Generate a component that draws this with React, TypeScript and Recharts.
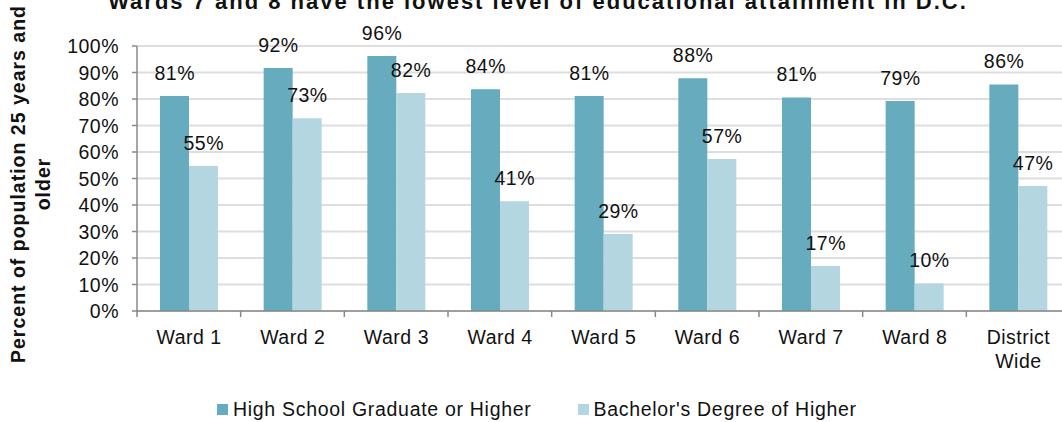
import React from "react";
import { BarChart, Bar, XAxis, YAxis, CartesianGrid, Legend, LabelList, Customized } from "recharts";

const categories = ["Ward 1", "Ward 2", "Ward 3", "Ward 4", "Ward 5", "Ward 6", "Ward 7", "Ward 8", "District Wide"];
const tickLabels = ["Ward 1", "Ward 2", "Ward 3", "Ward 4", "Ward 5", "Ward 6", "Ward 7", "Ward 8", "District\nWide"];
const highSchool = [81.1, 91.7, 96.2, 83.7, 81.1, 87.8, 80.6, 79.2, 85.5];
const bachelor = [54.7, 72.7, 82.3, 41.4, 29.1, 57.4, 17.0, 10.4, 47.2];
const yTicks = [0, 10, 20, 30, 40, 50, 60, 70, 80, 90, 100];
const seriesNames = ["High School Graduate or Higher", "Bachelor's Degree of Higher"];
const TITLE = "Wards 7 and 8 have the lowest level of educational attainment in D.C.";
const Y_LABEL = ["Percent of population 25 years and", "older"];

const data = categories.map((c, i) => ({ name: c, hs: highSchool[i], ba: bachelor[i] }));

const DARK = "#67abbf";
const LIGHT = "#b3d6e0";
const AXIS = "#898989";
const GRID = "#dedede";
const TEXT = "#111111";
const FONT = "'Liberation Sans', Arial, sans-serif";
const FS = 19.5;
const LS = 0.5;

const CHART_W = 1074;
const CHART_H = 422;
const MARGIN = { top: 46, right: 4, bottom: 51, left: 0 };
const Y_W = 137;
const PLOT_W = CHART_W - MARGIN.left - MARGIN.right - Y_W;
const BAND = PLOT_W / categories.length;

const XTick = (props: any) => {
  const { x, y, payload, index } = props;
  const idx = payload && typeof payload.index === "number" ? payload.index : index;
  const lines = tickLabels[idx].split("\n");
  return (
    <g>
      <line x1={x - BAND / 2} x2={x - BAND / 2} y1={y} y2={y + 6} stroke={AXIS} strokeWidth={1.5} />
      {idx === categories.length - 1 && (
        <line x1={x + BAND / 2} x2={x + BAND / 2} y1={y} y2={y + 6} stroke={AXIS} strokeWidth={1.5} />
      )}
      <text x={x} y={y + 33} textAnchor="middle" fill={TEXT} fontSize={FS} fontFamily={FONT} style={{ letterSpacing: LS }}>
        {lines.map((l: string, i: number) => (
          <tspan key={i} x={x + LS / 2} dy={i === 0 ? 0 : 24}>
            {l}
          </tspan>
        ))}
      </text>
    </g>
  );
};

const YTick = (props: any) => {
  const { x, y, payload } = props;
  return (
    <text x={x} y={y} dy={7} textAnchor="end" fill={TEXT} fontSize={FS} fontFamily={FONT} style={{ letterSpacing: LS }}>
      {`${payload.value}%`}
    </text>
  );
};

const BarLabel = (props: any) => {
  const { x, y, width, value } = props;
  return (
    <text x={x + width / 2 + LS / 2} y={y - 16} textAnchor="middle" fill={TEXT} fontSize={FS} fontFamily={FONT} style={{ letterSpacing: LS }}>
      {`${Math.round(value)}%`}
    </text>
  );
};

const YLabel = () => (
  <g>
    {Y_LABEL.map((t, i) => (
      <text
        key={i}
        x={25 + i * 25}
        y={184}
        transform={`rotate(-90, ${25 + i * 25}, 184)`}
        textAnchor="middle"
        fontWeight="bold"
        fontSize={19.5}
        fill={TEXT}
        fontFamily={FONT}
        style={{ letterSpacing: 1 }}
      >
        {t}
      </text>
    ))}
  </g>
);

const Title = () => (
  <text x={538} y={9} textAnchor="middle" fontWeight="bold" fontSize={22} fill={TEXT} fontFamily={FONT} style={{ letterSpacing: 2 }}>
    {TITLE}
  </text>
);

const LegendContent = () => (
  <div style={{ display: "flex", alignItems: "center", height: 22, fontFamily: FONT, fontSize: FS, letterSpacing: 0.7, color: TEXT, whiteSpace: "nowrap" }}>
    {seriesNames.map((n, i) => (
      <span key={n} style={{ display: "inline-flex", alignItems: "center", marginRight: i === 0 ? 46 : 0 }}>
        <span style={{ display: "inline-block", width: 11, height: 11, background: i === 0 ? DARK : LIGHT, marginRight: 5 }} />
        {n}
      </span>
    ))}
  </div>
);

export default function App() {
  return (
    <div style={{ position: "absolute", left: 0, top: 0, width: 1062, height: 422, overflow: "hidden", background: "#fff" }}>
      <BarChart width={CHART_W} height={CHART_H} data={data} margin={MARGIN} barGap={0} barSize={29}>
        <CartesianGrid vertical={false} stroke={GRID} strokeWidth={2} />
        <XAxis
          dataKey="name"
          height={60}
          interval={0}
          tickSize={0}
          tickMargin={0}
          tickLine={false}
          axisLine={{ stroke: AXIS, strokeWidth: 1.5 }}
          tick={<XTick />}
        />
        <YAxis
          width={Y_W}
          domain={[0, 100]}
          ticks={yTicks}
          interval={0}
          tickSize={5}
          tickMargin={13}
          tickLine={{ stroke: AXIS, strokeWidth: 1.5 }}
          axisLine={{ stroke: AXIS, strokeWidth: 1.5 }}
          tick={<YTick />}
        />
        <Legend
          layout="horizontal"
          verticalAlign="middle"
          align="center"
          content={<LegendContent />}
          wrapperStyle={{ top: 398, left: 217, width: 760, height: 22 }}
        />
        <Bar dataKey="hs" name={seriesNames[0]} fill={DARK} isAnimationActive={false}>
          <LabelList dataKey="hs" content={<BarLabel />} />
        </Bar>
        <Bar dataKey="ba" name={seriesNames[1]} fill={LIGHT} isAnimationActive={false}>
          <LabelList dataKey="ba" content={<BarLabel />} />
        </Bar>
        <Customized component={<YLabel />} />
        <Customized component={<Title />} />
      </BarChart>
    </div>
  );
}
